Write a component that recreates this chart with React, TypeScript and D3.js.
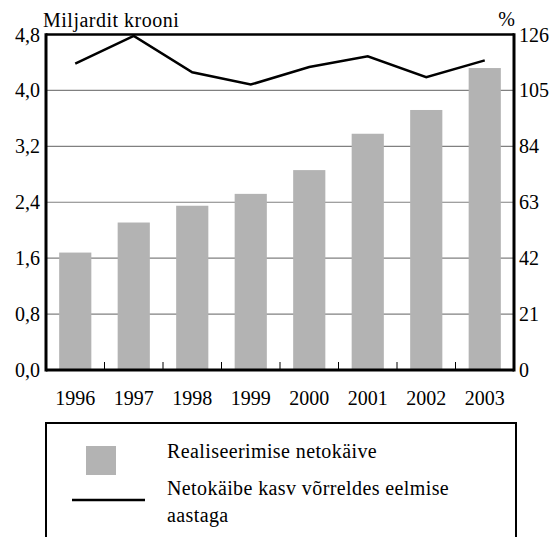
import React from "react";
import * as d3 from "d3";

const years = ["1996", "1997", "1998", "1999", "2000", "2001", "2002", "2003"];
const netSales = [1.68, 2.11, 2.35, 2.52, 2.86, 3.38, 3.72, 4.32];
const growthPct = [115.1, 125.5, 111.8, 107.2, 113.8, 117.8, 110.0, 116.3];
const leftTicks = [0, 0.8, 1.6, 2.4, 3.2, 4.0, 4.8];
const rightTicks = [0, 21, 42, 63, 84, 105, 126];
const leftTitle = "Miljardit krooni";
const rightTitle = "%";
const legendBar = "Realiseerimise netokäive";
const legendLine = ["Netokäibe kasv võrreldes eelmise", "aastaga"];

const W = 558;
const H = 537;
const FONT = "'Liberation Serif', 'Times New Roman', serif";

export default function App() {
  const left = 46;
  const right = 514;
  const top = 34.5;
  const bottom = 370;

  const x = d3.scaleBand<string>().domain(years).range([left, right]).padding(0);
  const yL = d3.scaleLinear().domain([0, 4.8]).range([bottom, top]);
  const yR = d3.scaleLinear().domain([0, 126]).range([bottom, top]);
  const bw = x.step() * 0.55;

  const line = d3
    .line<number>()
    .x((_, i) => (x(years[i]) as number) + x.bandwidth() / 2)
    .y((d) => yR(d));

  const fmt = (v: number) => v.toFixed(1).replace(".", ",");

  return (
    <svg width={W} height={H} style={{ position: "absolute", left: 0, top: 0 }} fontFamily={FONT}>
      <rect width={W} height={H} fill="#fff" />
      {/* gridlines */}
      {leftTicks.slice(1, -1).map((t) => (
        <line key={t} x1={left} x2={right} y1={yL(t)} y2={yL(t)} stroke="#808080" strokeWidth={1.2} />
      ))}
      {/* bars */}
      {netSales.map((v, i) => {
        const cx = (x(years[i]) as number) + x.bandwidth() / 2;
        return <rect key={i} x={cx - bw / 2} y={yL(v)} width={bw} height={bottom - yL(v)} fill="#b3b3b3" />;
      })}
      {/* category ticks */}
      {years.slice(1).map((yv) => (
        <line key={yv} x1={x(yv)} x2={x(yv)} y1={bottom} y2={bottom - 8} stroke="#000" strokeWidth={1} />
      ))}
      {/* growth line */}
      <path d={line(growthPct) || ""} fill="none" stroke="#000" strokeWidth={2.5} strokeLinejoin="miter" />
      {/* frame */}
      <line x1={left} x2={right} y1={top} y2={top} stroke="#000" strokeWidth={2.5} />
      <line x1={left} x2={right} y1={bottom} y2={bottom} stroke="#000" strokeWidth={3} />
      <line x1={left} x2={left} y1={top - 1.2} y2={bottom + 1.5} stroke="#000" strokeWidth={3} />
      <line x1={right} x2={right} y1={top - 1.2} y2={bottom + 1.5} stroke="#000" strokeWidth={3} />
      {/* left tick labels */}
      {leftTicks.map((t) => (
        <text key={t} x={40} y={yL(t)} dy="0.35em" textAnchor="end" fontSize={20} fill="#000">
          {fmt(t)}
        </text>
      ))}
      {/* right tick labels */}
      {rightTicks.map((t) => (
        <text key={t} x={519} y={yR(t)} dy="0.35em" textAnchor="start" fontSize={20} fill="#000">
          {t}
        </text>
      ))}
      {/* year labels */}
      {years.map((yv) => (
        <text key={yv} x={(x(yv) as number) + x.bandwidth() / 2} y={405} textAnchor="middle" fontSize={20} fill="#000">
          {yv}
        </text>
      ))}
      {/* axis titles */}
      <text x={43} y={27} fontSize={20} letterSpacing={0.5} fill="#000">{leftTitle}</text>
      <text x={515} y={26} textAnchor="end" fontSize={20} fill="#000">{rightTitle}</text>
      {/* legend */}
      <rect x={46} y={423} width={470} height={140} fill="none" stroke="#000" strokeWidth={2} />
      <rect x={86} y={446} width={30} height={29} fill="#b3b3b3" />
      <line x1={72} x2={145} y1={500} y2={500} stroke="#000" strokeWidth={2.5} />
      <text x={167} y={458} fontSize={20} letterSpacing={0.4} fill="#000">{legendBar}</text>
      <text x={167} y={495} fontSize={20} letterSpacing={0.4} fill="#000">{legendLine[0]}</text>
      <text x={167} y={522} fontSize={20} letterSpacing={0.4} fill="#000">{legendLine[1]}</text>
    </svg>
  );
}
